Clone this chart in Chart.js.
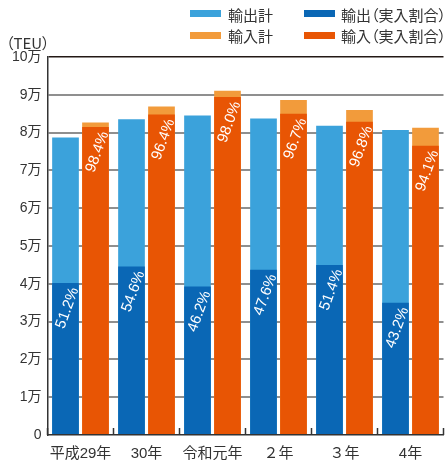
<!DOCTYPE html>
<html>
<head>
<meta charset="utf-8">
<script src="https://cdn.jsdelivr.net/npm/chart.js@4"></script>
<style>
html,body{margin:0;padding:0;background:#fff;overflow:hidden;}
#wrap{position:relative;width:446px;height:460px;}
#c{position:absolute;left:0;top:0;}
.lg{position:absolute;font-family:"Noto Sans CJK JP",sans-serif;font-size:15px;color:#333;line-height:20px;white-space:nowrap;font-feature-settings:"palt" 1;}
.sw{position:absolute;width:31px;height:7px;}
</style>
</head>
<body>
<div id="wrap">
<canvas id="c" width="446" height="460"></canvas>
<div class="sw" style="left:190px;top:10px;background:#3ba2db"></div>
<div class="lg" style="left:228px;top:5px">輸出計</div>
<div class="sw" style="left:190px;top:32px;background:#f29b3b"></div>
<div class="lg" style="left:228px;top:26px">輸入計</div>
<div class="sw" style="left:304px;top:10px;background:#0a67b5"></div>
<div class="lg" style="left:341px;top:5px">輸出（実入割合）</div>
<div class="sw" style="left:304px;top:32px;background:#e85504"></div>
<div class="lg" style="left:341px;top:26px">輸入（実入割合）</div>
<div class="lg" style="left:6px;top:33px;font-size:15px">（TEU）</div>
</div>
<script>
const categories = ['平成29年', '30年', '令和元年', '２年', '３年', '4年'];
const exportTotal = [78700, 83500, 84500, 83700, 81800, 80700];
const exportActual = [40200, 44600, 39300, 43700, 45000, 35000];
const importTotal = [82700, 86900, 91100, 88600, 86000, 81300];
const importActual = [81500, 84800, 89400, 85000, 82900, 76500];
const exportShare = ['51.2%', '54.6%', '46.2%', '47.6%', '51.4%', '43.2%'];
const importShare = ['98.4%', '96.4%', '98.0%', '96.7%', '96.8%', '94.1%'];
const yTickLabels = ['0', '1万', '2万', '3万', '4万', '5万', '6万', '7万', '8万', '9万', '10万'];

const FONT = '"Liberation Sans", "Noto Sans CJK JP", sans-serif';

const shareLabels = {
  id: 'shareLabels',
  afterDatasetsDraw(chart) {
    const ctx = chart.ctx;
    const sets = [[0, exportShare], [1, importShare]];
    ctx.save();
    ctx.fillStyle = '#ffffff';
    ctx.font = '15px ' + FONT;
    ctx.textAlign = 'center';
    ctx.textBaseline = 'middle';
    for (const [di, labels] of sets) {
      const meta = chart.getDatasetMeta(di);
      meta.data.forEach((bar, i) => {
        ctx.save();
        ctx.translate(bar.x + 2, bar.y + 25);
        ctx.rotate(-70 * Math.PI / 180);
        ctx.fillText(labels[i], 0, 0);
        ctx.restore();
      });
    }
    ctx.restore();
  }
};

const innerTicks = {
  id: 'innerTicks',
  afterDraw(chart) {
    const ctx = chart.ctx;
    const xs = chart.scales.x;
    const bottom = chart.chartArea.bottom;
    ctx.save();
    ctx.strokeStyle = '#333';
    ctx.lineWidth = 1.5;
    for (let i = 0; i <= categories.length; i++) {
      const x = xs.getPixelForValue(i - 0.5);
      ctx.beginPath();
      ctx.moveTo(x, bottom);
      ctx.lineTo(x, bottom - 7);
      ctx.stroke();
    }
    ctx.restore();
  }
};

new Chart(document.getElementById('c'), {
  type: 'bar',
  data: {
    labels: categories,
    datasets: [
      { label: '輸出（実入割合）', data: exportActual, stack: 'ex', backgroundColor: '#0a67b5', order: 0 },
      { label: '輸入（実入割合）', data: importActual, stack: 'im', backgroundColor: '#e85504', order: 0 },
      { label: '輸出計', data: exportTotal, stack: 'ex', backgroundColor: '#3ba2db', order: 1 },
      { label: '輸入計', data: importTotal, stack: 'im', backgroundColor: '#f29b3b', order: 1 }
    ]
  },
  options: {
    responsive: false,
    animation: false,
    events: [],
    layout: { padding: { top: 57, right: 2.5, left: 0, bottom: 0 } },
    datasets: { bar: { categoryPercentage: 0.909, barPercentage: 0.89 } },
    plugins: { legend: { display: false }, tooltip: { enabled: false } },
    scales: {
      x: {
        grid: { display: true, drawOnChartArea: false, drawTicks: false },
        border: { display: true, color: '#333', width: 1.5 },
        ticks: { color: '#333', font: { family: FONT, size: 15 }, padding: 10, maxRotation: 0, autoSkip: false },
        afterFit(s) { s.height = 25; }
      },
      y: {
        stacked: false,
        min: 0, max: 100000,
        grid: {
          drawTicks: false,
          color: (c) => c.tick && c.tick.value === 100000 ? '#231815' : (c.tick && c.tick.value === 0 ? 'rgba(0,0,0,0)' : '#8f8f8f'),
          lineWidth: (c) => c.tick && c.tick.value === 100000 ? 1.5 : 2
        },
        border: { display: true, color: '#333', width: 1.5 },
        ticks: {
          stepSize: 10000, color: '#333', font: { family: FONT, size: 14 }, padding: 6,
          callback: (v, i) => yTickLabels[i]
        },
        afterFit(s) { s.width = 47.5; }
      }
    }
  },
  plugins: [shareLabels, innerTicks]
});
</script>
</body>
</html>
